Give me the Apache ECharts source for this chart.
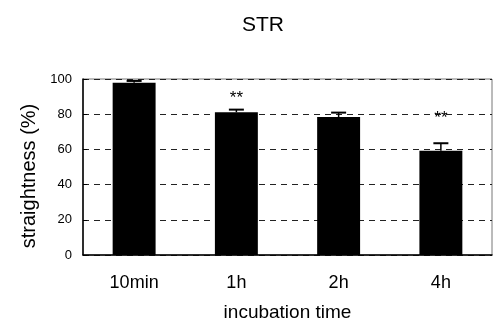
<!DOCTYPE html>
<html>
<head>
<meta charset="utf-8">
<script src="https://cdn.jsdelivr.net/npm/echarts@6/dist/echarts.min.js"></script>
<style>
  html, body { margin: 0; padding: 0; background: #fff; }
  #chart { width: 498px; height: 328px; }
</style>
</head>
<body>
<div id="chart"></div>
<script>
// data
const categories = ['10min', '1h', '2h', '4h'];
const means = [97.9, 81.1, 78.4, 59.3];
const errors = [1.0, 1.5, 2.5, 4.2];
// significance marks and the value height they sit at
const sigLabels = ['', '**', '', '**'];
const sigLevels = [null, 89, null, 77.4];
const yTicks = [0, 20, 40, 60, 80, 100];

const chart = echarts.init(document.getElementById('chart'));

const option = {
  animation: false,
  title: {
    text: 'STR',
    left: 237,
    top: 10,
    textStyle: { fontFamily: 'Liberation Sans', fontSize: 21, fontWeight: 'normal', color: '#000' }
  },
  grid: {
    left: 83, right: 6, top: 79, bottom: 73,
    show: true, borderColor: '#777', borderWidth: 1
  },
  xAxis: {
    type: 'category',
    data: categories,
    name: 'incubation time',
    nameLocation: 'middle',
    nameGap: 48,
    nameTextStyle: { fontFamily: 'Liberation Sans', fontSize: 19, color: '#000' },
    axisLine: { lineStyle: { color: '#000', width: 1.5 } },
    axisTick: { inside: true, length: 5, lineStyle: { color: '#000' } },
    axisLabel: { margin: 19, fontFamily: 'Liberation Sans', fontSize: 18, color: '#000' }
  },
  yAxis: {
    type: 'value',
    min: yTicks[0],
    max: yTicks[yTicks.length - 1],
    interval: 20,
    name: 'straightness (%)',
    nameLocation: 'middle',
    nameGap: 43,
    nameTextStyle: { fontFamily: 'Liberation Sans', fontSize: 20, color: '#000', padding: [0, 18, 0, 0] },
    axisLine: { show: true, lineStyle: { color: '#000', width: 1.5 } },
    axisTick: { show: true, inside: true, length: 4, lineStyle: { color: '#000' } },
    axisLabel: { margin: 11, fontFamily: 'Liberation Sans', fontSize: 13, color: '#000' },
    splitLine: { lineStyle: { color: '#222', type: [6, 5], width: 1 } }
  },
  series: [
    {
      type: 'bar',
      data: means,
      barWidth: '42%',
      itemStyle: { color: '#000' }
    },
    {
      // error bars (upper only)
      type: 'custom',
      data: means.map((m, i) => [i, m, m + errors[i]]),
      z: 3,
      renderItem: function (params, api) {
        const base = api.coord([api.value(0), api.value(1)]);
        const top = api.coord([api.value(0), api.value(2)]);
        const half = 7.5;
        return {
          type: 'group',
          children: [
            { type: 'line', shape: { x1: base[0], y1: base[1], x2: top[0], y2: top[1] },
              style: { stroke: '#000', lineWidth: 1.5 } },
            { type: 'line', shape: { x1: top[0] - half, y1: top[1], x2: top[0] + half, y2: top[1] },
              style: { stroke: '#000', lineWidth: 2 } }
          ]
        };
      }
    },
    {
      // asterisks
      type: 'custom',
      data: sigLevels.map((v, i) => [i, v]).filter(d => d[1] !== null),
      z: 4,
      renderItem: function (params, api) {
        const p = api.coord([api.value(0), api.value(1)]);
        return {
          type: 'text',
          x: p[0], y: p[1],
          style: {
            text: sigLabels[api.value(0)],
            fontFamily: 'Liberation Sans',
            fontSize: 17,
            fill: '#000',
            align: 'center',
            verticalAlign: 'middle'
          }
        };
      }
    }
  ]
};

chart.setOption(option);
</script>
</body>
</html>
